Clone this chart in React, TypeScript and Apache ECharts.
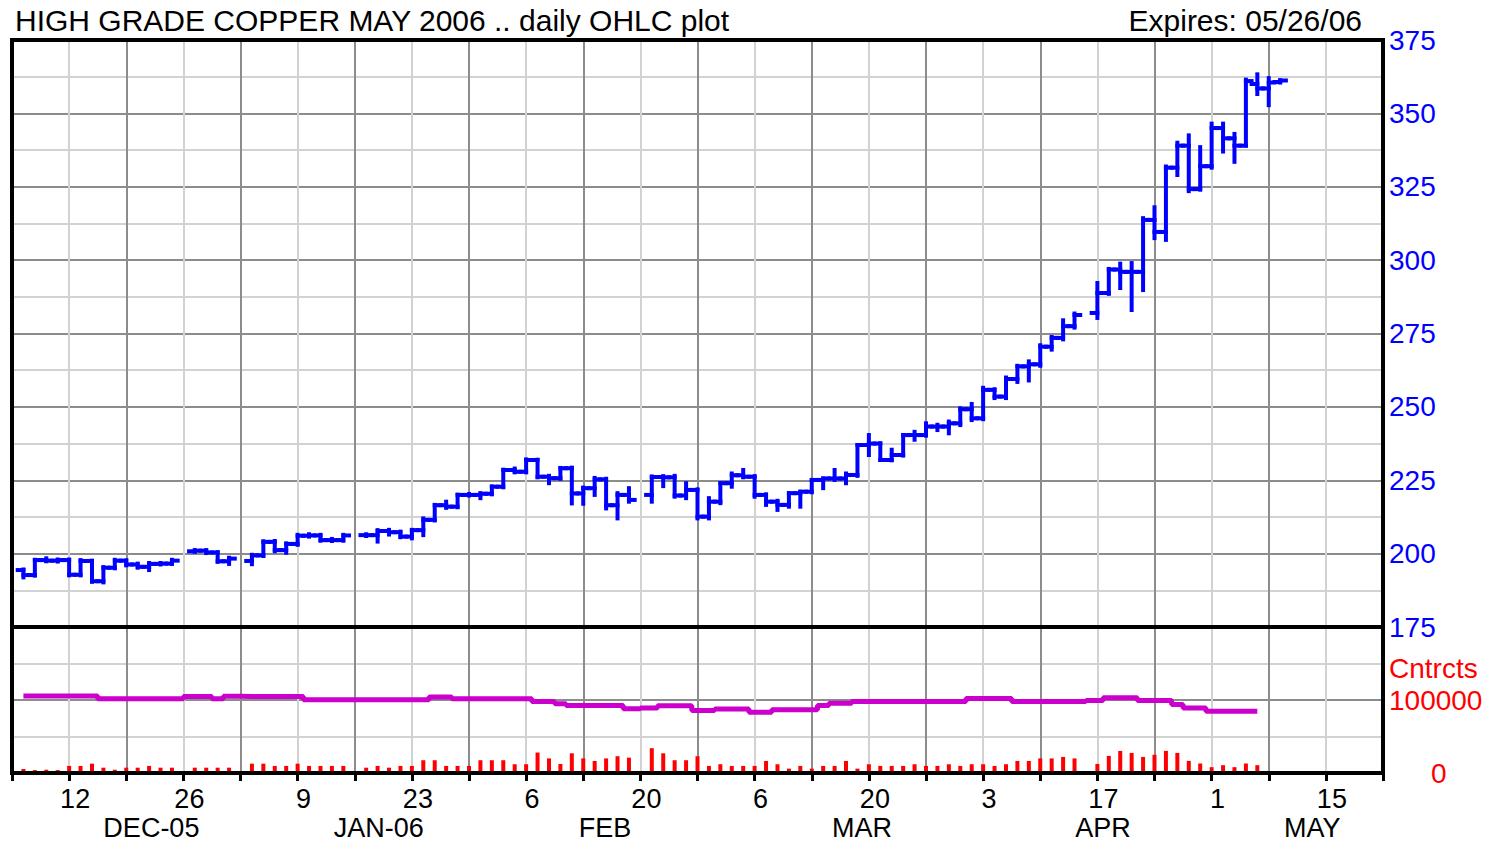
import React, { useEffect, useRef } from "react";
import * as echarts from "echarts";

// trading-day index (0 = Mon 5 Dec 2005, 5 trading days per week; holidays absent)
const dayIndex = [
  1, 2, 3, 4, 5, 6, 7, 8, 9, 10, 11, 12, 13, 14,
  16, 17, 18, 19,
  21, 22, 23, 24, 25, 26, 27, 28, 29,
  31, 32, 33, 34, 35, 36, 37, 38, 39, 40, 41, 42, 43, 44, 45, 46, 47, 48, 49, 50, 51, 52, 53, 54,
  56, 57, 58, 59, 60, 61, 62, 63, 64, 65, 66, 67, 68, 69, 70, 71, 72, 73, 74, 75, 76, 77, 78, 79, 80,
  81, 82, 83, 84, 85, 86, 87, 88, 89, 90, 91, 92, 93,
  95, 96, 97, 98, 99, 100, 101, 102, 103, 104, 105, 106, 107, 108, 109, 110, 111,
];

const openPrice = [
  194.4, 192.7, 197.8, 197.6, 197.8, 192.8, 197.5, 190.6, 195.2, 197.6, 196.3, 195.5, 196.5, 196.6,
  200.8, 201.0, 200.4, 197.4,
  197.5, 199.4, 204.0, 201.2, 203.3, 206.1, 206.2, 204.6, 204.6,
  206.3, 206.3, 207.7, 207.3, 205.8, 208.0, 211.5, 216.5, 216.0, 220.0, 220.0, 220.4, 222.8, 228.5, 227.9, 231.9, 226.2, 225.7, 229.1, 220.5, 222.3, 225.3, 216.5, 220.0,
  220.0, 226.1, 226.0, 219.8, 221.7, 212.6, 217.7, 224.0, 226.7, 226.2, 220.0, 217.7, 216.6, 220.6, 221.1, 225.1, 225.6, 225.6, 226.8, 237.0, 237.5, 231.9, 233.6, 240.4, 240.4,
  243.3, 243.3, 244.4, 249.2, 246.1, 255.8, 253.5, 259.5, 263.8, 264.5, 270.5, 273.5, 277.5,
  282.0, 288.8, 296.8, 296.0, 296.0, 313.7, 309.6, 331.5, 339.0, 324.2, 332.0, 345.0, 341.5, 339.0, 360.0, 358.5, 360.7,
];

const highPrice = [
  194.6, 197.9, 198.4, 198.0, 198.0, 197.8, 197.6, 195.4, 197.9, 197.7, 196.6, 196.8, 196.8, 197.9,
  201.2, 201.2, 200.5, 198.6,
  199.6, 204.2, 204.3, 203.5, 206.4, 206.6, 206.4, 205.0, 206.4,
  206.6, 208.0, 208.1, 207.5, 208.1, 212.0, 216.6, 217.7, 220.1, 220.3, 220.6, 222.9, 228.6, 229.0, 232.1, 232.0, 226.5, 229.2, 229.3, 222.5, 225.8, 225.5, 220.6, 222.3,
  226.3, 226.4, 226.5, 224.0, 221.9, 218.9, 224.0, 227.3, 228.5, 226.4, 220.2, 218.0, 220.6, 221.1, 225.1, 225.6, 228.5, 227.3, 237.0, 240.4, 237.6, 235.4, 240.4, 241.5, 244.4,
  243.9, 245.0, 249.5, 251.0, 256.5, 256.0, 260.0, 264.0, 265.5, 271.0, 273.8, 279.5, 281.8,
  292.2, 297.0, 298.8, 299.0, 314.3, 318.0, 331.9, 340.0, 342.5, 338.5, 346.5, 346.5, 343.0, 361.5, 363.3, 362.0, 361.3,
];

const lowPrice = [
  191.9, 192.5, 197.4, 197.3, 192.6, 192.6, 190.4, 190.2, 195.0, 196.0, 195.2, 194.4, 196.3, 196.5,
  200.6, 200.2, 197.2, 196.5,
  196.4, 199.2, 200.8, 200.3, 203.0, 205.8, 204.4, 204.3, 204.4,
  206.0, 204.1, 206.5, 205.6, 205.2, 206.3, 211.3, 215.6, 215.8, 219.8, 218.9, 220.2, 222.6, 227.7, 227.7, 226.0, 224.0, 225.5, 217.1, 217.0, 220.0, 215.4, 212.0, 217.7,
  217.7, 223.0, 219.4, 218.9, 212.0, 212.0, 217.2, 222.8, 226.0, 219.4, 216.6, 214.9, 216.0, 216.0, 220.9, 222.3, 225.1, 224.0, 226.5, 233.6, 231.9, 231.8, 233.4, 238.8, 240.2,
  242.1, 241.0, 243.8, 245.5, 245.8, 253.0, 253.0, 258.5, 259.0, 264.0, 269.5, 273.0, 277.0,
  280.3, 288.5, 290.5, 283.0, 289.8, 307.5, 306.9, 329.0, 323.5, 324.0, 331.5, 337.0, 333.5, 339.0, 356.6, 352.8, 360.5,
];

const closePrice = [
  192.7, 197.8, 197.6, 197.8, 192.8, 197.5, 190.6, 195.2, 197.6, 196.3, 195.5, 196.5, 196.6, 197.6,
  201.0, 200.4, 197.4, 198.3,
  199.4, 204.0, 201.2, 203.3, 206.1, 206.2, 204.6, 204.6, 206.2,
  206.3, 207.7, 207.3, 205.8, 208.0, 211.5, 216.5, 216.0, 220.0, 220.0, 220.4, 222.8, 228.5, 227.9, 231.9, 226.2, 225.7, 229.1, 220.5, 222.3, 225.3, 216.5, 220.0, 218.3,
  226.1, 226.0, 219.8, 221.7, 212.6, 217.7, 224.0, 226.7, 226.2, 220.0, 217.7, 216.6, 220.6, 221.1, 225.1, 225.6, 225.6, 226.8, 237.0, 237.5, 231.9, 233.6, 240.4, 240.4, 243.3,
  243.3, 244.4, 249.2, 246.1, 255.8, 253.5, 259.5, 263.8, 264.5, 270.5, 273.5, 277.5, 281.3,
  288.8, 296.8, 296.0, 296.0, 313.7, 309.6, 331.5, 339.0, 324.2, 332.0, 345.0, 341.5, 339.0, 361.0, 358.5, 360.5, 361.2,
];

// volume and open interest (contracts), first 104 trading days of dayIndex
const volume = [
  5500, 4000, 4500, 4000, 9700, 9700, 12800, 7300, 4500, 7300, 7300, 9700, 7300, 7300,
  7300, 7300, 7300, 7300,
  12800, 12800, 9700, 9700, 12800, 9700, 9700, 9700, 9700,
  7300, 9700, 7300, 9700, 9700, 17500, 17500, 9700, 9700, 9700, 17500, 17500, 17500, 12000, 12000, 28000, 20000, 12400, 27000, 20000, 16500, 20000, 23000, 21000,
  34000, 27000, 17500, 17500, 23000, 9700, 12000, 9700, 9700, 9700, 16500, 12000, 6000, 9700, 6000, 9700, 9700, 16500, 6000, 12000, 9700, 9700, 9700, 12000, 9700,
  9700, 12000, 9700, 12000, 12000, 9700, 12000, 16500, 16500, 20000, 20000, 22000, 20000,
  12400, 23400, 30300, 27500, 22000, 25000, 30300, 27500, 16600, 13000, 8000, 10700, 8000, 13000, 10700,
];

const openInterest = [
  105500, 105500, 105500, 105500, 105500, 105500, 105500, 101800, 101800, 101800, 101800, 101800, 101800, 101800,
  104800, 104800, 101800, 105000,
  104800, 104800, 104800, 104800, 104800, 100500, 100500, 100500, 100500,
  100500, 100500, 100500, 100500, 100500, 100500, 104000, 104000, 101600, 101600, 101600, 101600, 101600, 101600, 101600, 97900, 97900, 94700, 92400, 92400, 92400, 92400, 92400, 88000,
  89000, 92000, 92000, 92000, 85500, 85500, 87800, 87800, 87800, 83200, 83200, 86500, 86500, 86500, 86500, 92400, 95600, 95600, 97900, 97900, 97900, 97900, 97900, 97900, 97900,
  97900, 97900, 97900, 102000, 102000, 102000, 102000, 97900, 97900, 97900, 97900, 97900, 97900,
  99300, 103000, 103000, 103000, 99300, 99300, 99300, 93800, 89200, 89200, 84600, 84600, 84600, 84600, 84600,
];

// x-axis tick labels (every other Monday) and month labels (anchored at a day index)
const tickIndex = [5, 15, 25, 35, 45, 55, 65, 75, 85, 95, 105, 115];
const tickLabels = ["12", "26", "9", "23", "6", "20", "6", "20", "3", "17", "1", "15"];
const monthLabels = ["DEC-05", "JAN-06", "FEB", "MAR", "APR", "MAY"];
const monthAnchor = [12.2, 32.1, 51.9, 74.4, 95.5, 113.8];

const FONT = '"Liberation Sans", Arial, sans-serif';
const DARK = "#8c8c8c";
const LIGHT = "#d2d2d2";
const BLUE = "#0000ff";
const RED = "#ff0000";

const L = 12, R = 1383, T = 40, MID = 627, B = 773;

export default function App() {
  const ref = useRef<HTMLDivElement>(null);
  useEffect(() => {
    const chart = echarts.init(ref.current!, null, { renderer: "svg" });
    const ohlc = dayIndex.map((d, i) => [d, openPrice[i], highPrice[i], lowPrice[i], closePrice[i]]);
    const volData = volume.map((v, i) => [dayIndex[i], v]);
    const oiData = openInterest.map((v, i) => [dayIndex[i], v]);
    const labelMap: Record<number, string> = {};
    tickIndex.forEach((t, i) => (labelMap[t] = tickLabels[i]));

    const splitX = { show: true, lineStyle: { color: [DARK, LIGHT], width: 2 } };
    chart.setOption({
      animation: false,
      backgroundColor: "#ffffff",
      grid: [
        { left: L, top: T, width: R - L, height: MID - T },
        { left: L, top: MID, width: R - L, height: B - MID },
      ],
      xAxis: [
        {
          type: "value", gridIndex: 0, min: 0, max: 120, interval: 5,
          axisLine: { show: false }, axisTick: { show: false }, axisLabel: { show: false },
          splitLine: splitX,
        },
        {
          type: "value", gridIndex: 1, min: 0, max: 120, interval: 5,
          axisLine: { show: false },
          axisTick: { show: true, length: 8, lineStyle: { color: "#000", width: 3 } },
          axisLabel: {
            show: true, margin: 12, color: "#000", fontSize: 27, fontFamily: FONT,
            padding: [0, 0, 0, 12],
            formatter: (v: number) => labelMap[v] || "",
          },
          splitLine: splitX,
        },
      ],
      yAxis: [
        {
          type: "value", gridIndex: 0, position: "right", min: 175, max: 375, interval: 12.5,
          axisLine: { show: false }, axisTick: { show: false },
          axisLabel: {
            color: BLUE, fontSize: 28, fontFamily: FONT, margin: 6,
            formatter: (v: number) => (v % 25 === 0 ? String(v) : ""),
          },
          splitLine: { show: true, lineStyle: { color: [DARK, LIGHT], width: 2 } },
        },
        {
          type: "value", gridIndex: 1, position: "right", min: 0, max: 200000, interval: 50000,
          axisLine: { show: false }, axisTick: { show: false },
          axisLabel: {
            color: RED, fontSize: 28, fontFamily: FONT, margin: 6,
            formatter: (v: number) => (v === 100000 ? "100000" : v === 0 ? "{z|0}" : ""),
            rich: { z: { color: RED, fontSize: 28, fontFamily: FONT, padding: [0, 0, 0, 42] } },
          },
          splitLine: { show: true, lineStyle: { color: [DARK, LIGHT], width: 2 } },
        },
      ],
      series: [
        {
          type: "custom", xAxisIndex: 0, yAxisIndex: 0, data: ohlc,
          renderItem: (params: any, api: any) => {
            const x = api.value(0);
            const o = api.coord([x, api.value(1)]);
            const h = api.coord([x, api.value(2)]);
            const l = api.coord([x, api.value(3)]);
            const c = api.coord([x, api.value(4)]);
            const half = api.size([1, 0])[0] / 2;
            const st = { stroke: BLUE, lineWidth: 4, lineCap: "square" };
            return {
              type: "group",
              children: [
                { type: "line", shape: { x1: h[0], y1: h[1], x2: l[0], y2: l[1] }, style: st },
                { type: "line", shape: { x1: o[0] - half, y1: o[1], x2: o[0], y2: o[1] }, style: st },
                { type: "line", shape: { x1: c[0], y1: c[1], x2: c[0] + half, y2: c[1] }, style: st },
              ],
            };
          },
        },
        {
          type: "bar", xAxisIndex: 1, yAxisIndex: 1, data: volData, barWidth: 4,
          itemStyle: { color: RED },
        },
        {
          type: "line", xAxisIndex: 1, yAxisIndex: 1, data: oiData, step: "middle",
          showSymbol: false, lineStyle: { color: "#cc00cc", width: 5 }, z: 3,
        },
      ],
    });

    const txt = (text: string, x: number, y: number, color: string, size: number, align: string) => ({
      type: "text", x, y, z: 100,
      style: {
        text, fill: color, fontSize: size, fontFamily: FONT,
        align, verticalAlign: "middle", textAlign: align, textVerticalAlign: "middle",
      },
    });
    const months = monthLabels.map((m, i) => {
      const px = chart.convertToPixel({ xAxisIndex: 1 }, monthAnchor[i]) as number;
      return txt(m, px, 828, "#000", 27, "center");
    });
    chart.setOption({
      graphic: [
        {
          type: "rect", z: 100, shape: { x: L, y: T, width: R - L, height: B - T },
          style: { fill: "none", stroke: "#000", lineWidth: 4 },
        },
        {
          type: "line", z: 100, shape: { x1: L, y1: MID, x2: R, y2: MID },
          style: { stroke: "#000", lineWidth: 4 },
        },
        txt("HIGH GRADE COPPER MAY 2006 .. daily OHLC plot", 15, 20, "#000", 30, "left"),
        txt("Expires: 05/26/06", 1362, 20, "#000", 30, "right"),
        txt("Cntrcts", 1389, 668, RED, 28, "left"),
        ...months,
      ],
    });
    return () => chart.dispose();
  }, []);
  return (
    <div
      ref={ref}
      style={{ position: "fixed", left: 0, top: 0, width: 1501, height: 844, background: "#fff" }}
    />
  );
}
